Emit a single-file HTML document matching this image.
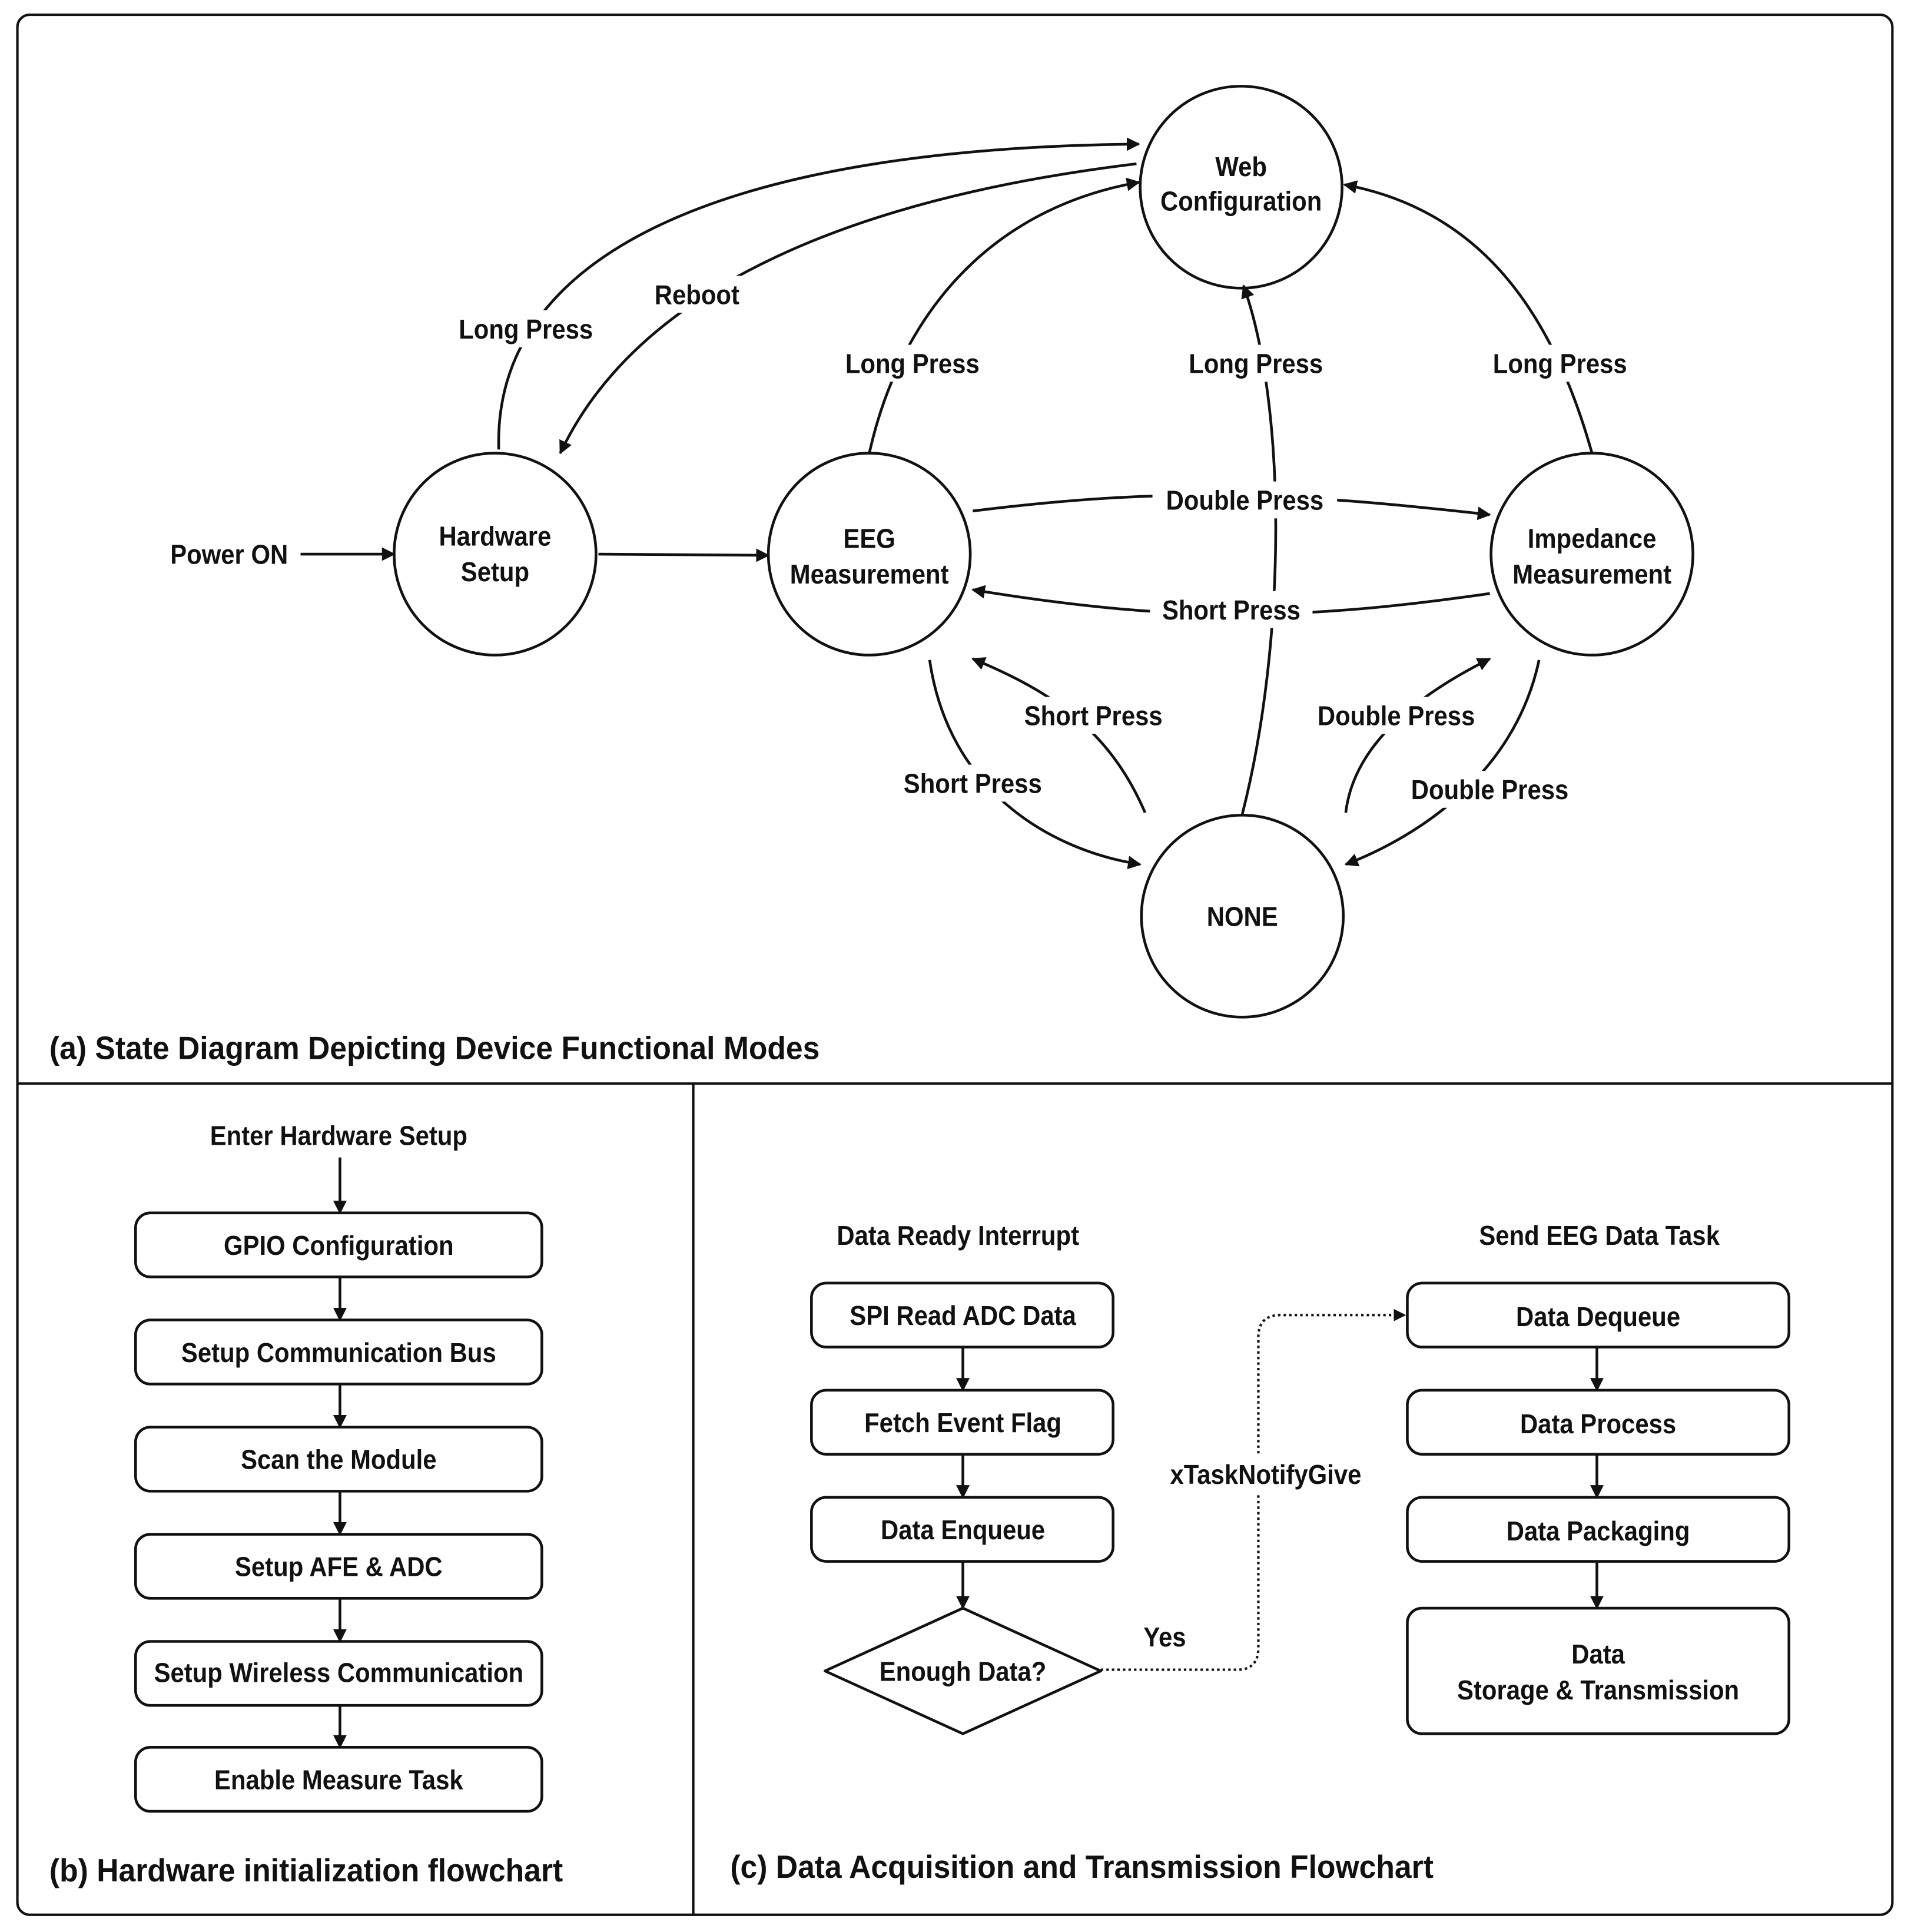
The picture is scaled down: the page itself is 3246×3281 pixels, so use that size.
<!DOCTYPE html>
<html><head><meta charset="utf-8"><style>
html,body{margin:0;padding:0;background:#fff}
svg{display:block}
text{font-family:"Liberation Sans Narrow","Liberation Sans",sans-serif;font-weight:bold;fill:#111;transform-box:fill-box;transform-origin:center;transform:scaleX(0.91)}
text.l{transform-origin:left center;transform:scaleX(0.95)}
</style></head><body>
<svg width="3246" height="3281" viewBox="0 0 1552 1569" xmlns="http://www.w3.org/2000/svg">
<defs>
<marker id="a" viewBox="0 0 10 10" refX="9" refY="5" markerWidth="5" markerHeight="5" orient="auto" markerUnits="strokeWidth"><path d="M0,0 L10,5 L0,10 Z" fill="#111"/></marker>
</defs>
<rect x="14" y="12" width="1523" height="1543" rx="10" fill="none" stroke="#111" stroke-width="2"/>
<line x1="14" y1="880" x2="1537" y2="880" stroke="#111" stroke-width="2"/>
<line x1="563" y1="880" x2="563" y2="1555" stroke="#111" stroke-width="2"/>

<g fill="none" stroke="#111" stroke-width="2.2">
<circle cx="1008" cy="152" r="82"/>
<circle cx="402" cy="450" r="82"/>
<circle cx="706" cy="450" r="82"/>
<circle cx="1293" cy="450" r="82"/>
<circle cx="1009" cy="744" r="82"/>
</g>
<g fill="none" stroke="#111" stroke-width="2.2" marker-end="url(#a)">
<path d="M244,450 L320,450"/>
<path d="M486,450 L624,451"/>
<path d="M405,365 C400,200 600,120 925,117"/>
<path d="M923,133 C700,160 520,230 455,368"/>
<path d="M706,368 C730,260 800,170 925,148"/>
<path d="M1009,661 C1045,520 1045,330 1010,232"/>
<path d="M1293,368 C1260,250 1200,170 1092,150"/>
<path d="M790,415 C950,395 1050,400 1210,418"/>
<path d="M1210,482 C1050,505 950,505 790,479"/>
<path d="M755,536 C770,640 850,690 926,702"/>
<path d="M930,660 C900,590 850,560 790,535"/>
<path d="M1093,660 C1100,600 1160,560 1210,535"/>
<path d="M1250,536 C1230,630 1150,680 1093,702"/>
</g>
<g fill="#fff">
<rect x="370" y="252" width="114" height="30"/>
<rect x="528" y="224" width="76" height="30"/>
<rect x="684" y="280" width="114" height="30"/>
<rect x="963" y="280" width="114" height="30"/>
<rect x="1210" y="280" width="114" height="30"/>
<rect x="936" y="391" width="150" height="30"/>
<rect x="934" y="480" width="132" height="30"/>
<rect x="730" y="621" width="120" height="30"/>
<rect x="828" y="566" width="120" height="30"/>
<rect x="1066" y="566" width="136" height="30"/>
<rect x="1142" y="626" width="136" height="30"/>
</g>
<g font-size="22" text-anchor="middle">
<text x="186" y="458">Power ON</text>
<text x="1008" y="143">Web</text><text x="1008" y="171">Configuration</text>
<text x="402" y="443">Hardware</text><text x="402" y="472">Setup</text>
<text x="706" y="445">EEG</text><text x="706" y="474">Measurement</text>
<text x="1293" y="445">Impedance</text><text x="1293" y="474">Measurement</text>
<text x="1009" y="752">NONE</text>
<text x="427" y="275">Long Press</text>
<text x="566" y="247">Reboot</text>
<text x="741" y="303">Long Press</text>
<text x="1020" y="303">Long Press</text>
<text x="1267" y="303">Long Press</text>
<text x="1011" y="414">Double Press</text>
<text x="1000" y="503">Short Press</text>
<text x="790" y="644">Short Press</text>
<text x="888" y="589">Short Press</text>
<text x="1134" y="589">Double Press</text>
<text x="1210" y="649">Double Press</text>
</g>
<g font-size="26">
<text class="l" x="40" y="860">(a) State  Diagram Depicting Device Functional Modes</text>
<text class="l" x="40" y="1528">(b) Hardware initialization flowchart</text>
<text class="l" x="593" y="1525">(c) Data Acquisition and Transmission Flowchart</text>
</g>

<g fill="none" stroke="#111" stroke-width="2.2">
<rect x="110" y="985" width="330" height="52" rx="12"/>
<rect x="110" y="1072" width="330" height="52" rx="12"/>
<rect x="110" y="1159" width="330" height="52" rx="12"/>
<rect x="110" y="1246" width="330" height="52" rx="12"/>
<rect x="110" y="1333" width="330" height="52" rx="12"/>
<rect x="110" y="1419" width="330" height="52" rx="12"/>
<rect x="659" y="1042" width="245" height="52" rx="12"/>
<rect x="659" y="1129" width="245" height="52" rx="12"/>
<rect x="659" y="1216" width="245" height="52" rx="12"/>
<path d="M782,1306 L894,1357 L782,1408 L670,1357 Z" stroke-linejoin="round"/>
<rect x="1143" y="1042" width="310" height="52" rx="12"/>
<rect x="1143" y="1129" width="310" height="52" rx="12"/>
<rect x="1143" y="1216" width="310" height="52" rx="12"/>
<rect x="1143" y="1306" width="310" height="102" rx="12"/>
</g>
<g fill="none" stroke="#111" stroke-width="2.2" marker-end="url(#a)">
<path d="M276,940 L276,985"/>
<path d="M276,1037 L276,1072"/>
<path d="M276,1124 L276,1159"/>
<path d="M276,1211 L276,1246"/>
<path d="M276,1298 L276,1333"/>
<path d="M276,1385 L276,1419"/>
<path d="M782,1094 L782,1129"/>
<path d="M782,1181 L782,1216"/>
<path d="M782,1268 L782,1306"/>
<path d="M1297,1094 L1297,1129"/>
<path d="M1297,1181 L1297,1216"/>
<path d="M1297,1268 L1297,1306"/>
<path d="M894,1356 L1005,1356 Q1022,1356 1022,1338 L1022,1086 Q1022,1068 1040,1068 L1141,1068" stroke-dasharray="2,2.5" stroke-width="2"/>
</g>
<rect x="950" y="1182" width="156" height="30" fill="#fff"/>
<g font-size="22" text-anchor="middle">
<text x="275" y="930">Enter Hardware Setup</text>
<text x="275" y="1019">GPIO Configuration</text>
<text x="275" y="1106">Setup Communication Bus</text>
<text x="275" y="1193">Scan the Module</text>
<text x="275" y="1280">Setup AFE &amp; ADC</text>
<text x="275" y="1366">Setup Wireless Communication</text>
<text x="275" y="1453">Enable Measure Task</text>
<text x="778" y="1011">Data Ready Interrupt</text>
<text x="782" y="1076">SPI Read ADC Data</text>
<text x="782" y="1163">Fetch Event Flag</text>
<text x="782" y="1250">Data Enqueue</text>
<text x="782" y="1365">Enough Data?</text>
<text x="1299" y="1011">Send EEG Data Task</text>
<text x="1298" y="1077">Data Dequeue</text>
<text x="1298" y="1164">Data Process</text>
<text x="1298" y="1251">Data Packaging</text>
<text x="1298" y="1351">Data</text>
<text x="1298" y="1380">Storage &amp; Transmission</text>
<text x="1028" y="1205">xTaskNotifyGive</text>
<text x="946" y="1337">Yes</text>
</g>
</svg>
</body></html>
